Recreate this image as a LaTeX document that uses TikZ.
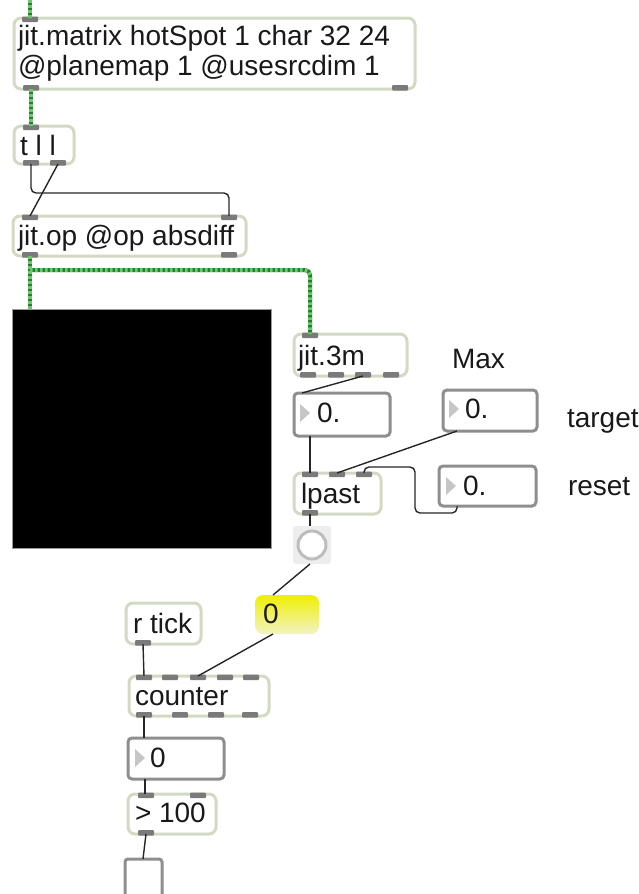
\documentclass[tikz,border=0pt]{standalone}
\usepackage{fontspec}
\setmainfont{Liberation Sans}
\usetikzlibrary{calc}

\definecolor{objborder}{HTML}{D3DAC3}
\definecolor{tabc}{HTML}{7A7A7A}
\definecolor{numborder}{HTML}{8E8E8E}
\definecolor{trigray}{HTML}{C6C6C6}
\definecolor{cordc}{HTML}{262626}
\definecolor{jitdark}{HTML}{2E7A34}
\definecolor{jitlight}{HTML}{68CC68}
\definecolor{bangbg}{HTML}{EDEDED}
\definecolor{bangring}{HTML}{BDBDBD}
\definecolor{msgtop}{HTML}{EFEF00}
\definecolor{msgbot}{HTML}{F3F3C6}
\definecolor{screenedge}{HTML}{9A9A9A}

% inlet / outlet tabs: box node, coordinate name, offset from the box's left edge
\newcommand\inlet[3]{%
  \fill[tabc, rounded corners=1pt] ($(#1.north west)+(#3,-1.5)$) rectangle ++(16,5.5);
  \coordinate (#2) at ($(#1.north west)+(#3+8,0)$);}
\newcommand\outlet[3]{%
  \fill[tabc, rounded corners=1pt] ($(#1.south west)+(#3,-4)$) rectangle ++(16,5.5);
  \coordinate (#2) at ($(#1.south west)+(#3+8,0)$);}

\begin{document}
\begin{tikzpicture}[x=1pt,y=-1pt,
  obj/.style={draw=objborder, line width=3pt, rounded corners=7pt, fill=white,
    anchor=north west, outer sep=0pt, inner sep=0pt},
  num/.style={draw=numborder, line width=3pt, rounded corners=4pt, fill=white,
    anchor=north west, outer sep=0pt, inner sep=0pt},
  txt/.style={anchor=base west, inner sep=0pt, outer sep=0pt,
    font=\fontsize{28}{30}\selectfont, text=black!90},
  tri/.style={fill=trigray},
  cord/.style={draw=cordc, line width=1.4pt, rounded corners=5pt},
  jitbase/.style={draw=jitdark, line width=4pt, rounded corners=5pt},
  jitdash/.style={draw=jitlight, line width=4pt, rounded corners=5pt, dash pattern=on 2.5pt off 2.5pt},
]
\useasboundingbox (0,0) rectangle (639,894);

% ---------- object and number boxes ----------
\node[obj, minimum width=401, minimum height=71] (mtx) at (14,18) {};
\node[txt] (mtxa) at (18,45) {jit.matrix hotSpot 1 char 32 24};
\node[txt] (mtxb) at (18,75) {@planemap 1 @usesrcdim 1};

\node[obj, minimum width=60, minimum height=38] (tll) at (14,126) {};
\node[txt] (tllt) at (20,155) {t l l};

\node[obj, minimum width=233, minimum height=40] (jop) at (13,216) {};
\node[txt] (jopt) at (18,245) {jit.op @op absdiff};

\node[draw=screenedge, line width=1pt, fill=black, anchor=north west, outer sep=0pt,
  inner sep=0pt, minimum width=259, minimum height=239] (screen) at (12,309) {};

\node[obj, minimum width=113, minimum height=42] (j3m) at (294,334) {};
\node[txt] (j3mt) at (298,365) {jit.3m};

\node[txt] (maxl) at (452,368) {Max};

\node[num, minimum width=96, minimum height=43] (f1) at (294,393) {};
\fill[tri] (300,404) -- (310,413) -- (300,422) -- cycle;
\node[txt] (f1t) at (317,422) {0.};

\node[num, minimum width=94, minimum height=41] (ftg) at (443,390) {};
\fill[tri] (449,400) -- (459,409) -- (449,418) -- cycle;
\node[txt] (ftgt) at (465,418) {0.};
\node[txt] (tgtl) at (567,427) {target};

\node[obj, minimum width=87, minimum height=41] (lp) at (294,473) {};
\node[txt] (lpt) at (301,503) {lpast};

\node[num, minimum width=97, minimum height=40] (frs) at (439,466) {};
\fill[tri] (446,477) -- (456,486) -- (446,495) -- cycle;
\node[txt] (frst) at (463,495) {0.};
\node[txt] (rstl) at (568,495) {reset};

% bang
\node[fill=bangbg, rounded corners=3pt, anchor=north west, outer sep=0pt, inner sep=0pt,
  minimum width=38, minimum height=38] (bang) at (293,526) {};
\node[draw=bangring, line width=3pt, fill=white, circle, minimum size=28, inner sep=0pt,
  outer sep=0pt] (bangc) at (312,545) {};

% message box
\node[rounded corners=8pt, top color=msgtop, bottom color=msgbot, anchor=north west,
  outer sep=0pt, inner sep=0pt, minimum width=64, minimum height=39] (msg) at (255,595) {};
\node[txt] (msgt) at (263,623) {0};

\node[obj, minimum width=75, minimum height=41] (rt) at (126,603) {};
\node[txt] (rtt) at (133,633) {r tick};

\node[obj, minimum width=140, minimum height=40] (ctr) at (129,676) {};
\node[txt] (ctrt) at (135,705) {counter};

\node[num, minimum width=96, minimum height=41] (ibox) at (128,738) {};
\fill[tri] (135,749) -- (145,758) -- (135,767) -- cycle;
\node[txt] (iboxt) at (150,767) {0};

\node[obj, minimum width=88, minimum height=40] (gt) at (128,794) {};
\node[txt] (gtt) at (135,822) {> 100};

\node[num, minimum width=37, minimum height=42, rounded corners=3pt] (tog) at (125,859) {};

% ---------- inlets and outlets ----------
\inlet{mtx}{mtx-i1}{8}
\outlet{mtx}{mtx-o1}{9}
\outlet{mtx}{mtx-o2}{378}

\inlet{tll}{tll-i1}{9}
\outlet{tll}{tll-o1}{9}
\outlet{tll}{tll-o2}{36}

\inlet{jop}{jop-i1}{9}
\inlet{jop}{jop-i2}{208}
\outlet{jop}{jop-o1}{9}
\outlet{jop}{jop-o2}{208}

\inlet{j3m}{j3m-i1}{8}
\outlet{j3m}{j3m-o1}{6}
\outlet{j3m}{j3m-o2}{34}
\outlet{j3m}{j3m-o3}{61}
\outlet{j3m}{j3m-o4}{89}

\inlet{lp}{lp-i1}{8}
\inlet{lp}{lp-i2}{35}
\inlet{lp}{lp-i3}{62}
\outlet{lp}{lp-o1}{8}

\outlet{rt}{rt-o1}{9}

\inlet{ctr}{ctr-i1}{7}
\inlet{ctr}{ctr-i2}{33}
\inlet{ctr}{ctr-i3}{61}
\inlet{ctr}{ctr-i4}{88}
\inlet{ctr}{ctr-i5}{114}
\outlet{ctr}{ctr-o1}{7}
\outlet{ctr}{ctr-o2}{43}
\outlet{ctr}{ctr-o3}{79}
\outlet{ctr}{ctr-o4}{113}

\inlet{gt}{gt-i1}{10}
\inlet{gt}{gt-i2}{62}
\outlet{gt}{gt-o1}{10}

% number box, message, bang and toggle ports
\coordinate (f1-i) at ($(f1.north west)+(8,0)$);
\coordinate (f1-o) at ($(f1.south west)+(16,0)$);
\coordinate (ftg-o) at ($(ftg.south west)+(14,0)$);
\coordinate (frs-o) at ($(frs.south west)+(18,0)$);
\coordinate (msg-i) at ($(msg.north west)+(18,0)$);
\coordinate (msg-o) at ($(msg.south west)+(18,0)$);
\coordinate (ibox-i) at ($(ibox.north west)+(17,0)$);
\coordinate (ibox-o) at ($(ibox.south west)+(17,0)$);
\coordinate (bang-i) at ($(bang.north west)+(17,0)$);
\coordinate (bang-o) at ($(bang.south west)+(17,0)$);
\coordinate (tog-i) at ($(tog.north west)+(18,0)$);
\coordinate (top-in) at (30,0);
\coordinate (jsplit) at (30,270);

% ---------- matrix cords ----------
\foreach \sty in {jitbase,jitdash}{
  \draw[\sty] (top-in) -- (mtx-i1);
  \draw[\sty] (mtx-o1) -- (tll-i1);
  \draw[\sty] (jop-o1) -- (jop-o1 |- screen.north);
  \draw[\sty] (jsplit) -| (j3m-i1);
}

% ---------- control cords ----------
\draw[cord] (tll-o1) -- ++(0,29) -| (jop-i2);
\draw[cord] (tll-o2) -- (jop-i1);
\draw[cord] (j3m-o3) -- (f1-i);
\draw[cord] (f1-o) -- (f1-o |- lp-i1);
\draw[cord] (ftg-o) -- (lp-i2);
\draw[cord] (frs-o) -- ++(0,7) -- ++(-42,0) -- ++(0,-46) -| (lp-i3);
\draw[cord] (lp-o1) -- (lp-o1 |- bang.north);
\draw[cord] (bang-o) -- (msg-i);
\draw[cord] (msg-o) -- (ctr-i3);
\draw[cord] (rt-o1) -- (ctr-i1);
\draw[cord] (ctr-o1) -- (ctr-o1 |- ibox.north);
\draw[cord] (ibox-o) -- (ibox-o |- gt-i1);
\draw[cord] (gt-o1) -- (tog-i);
\end{tikzpicture}
\end{document}
